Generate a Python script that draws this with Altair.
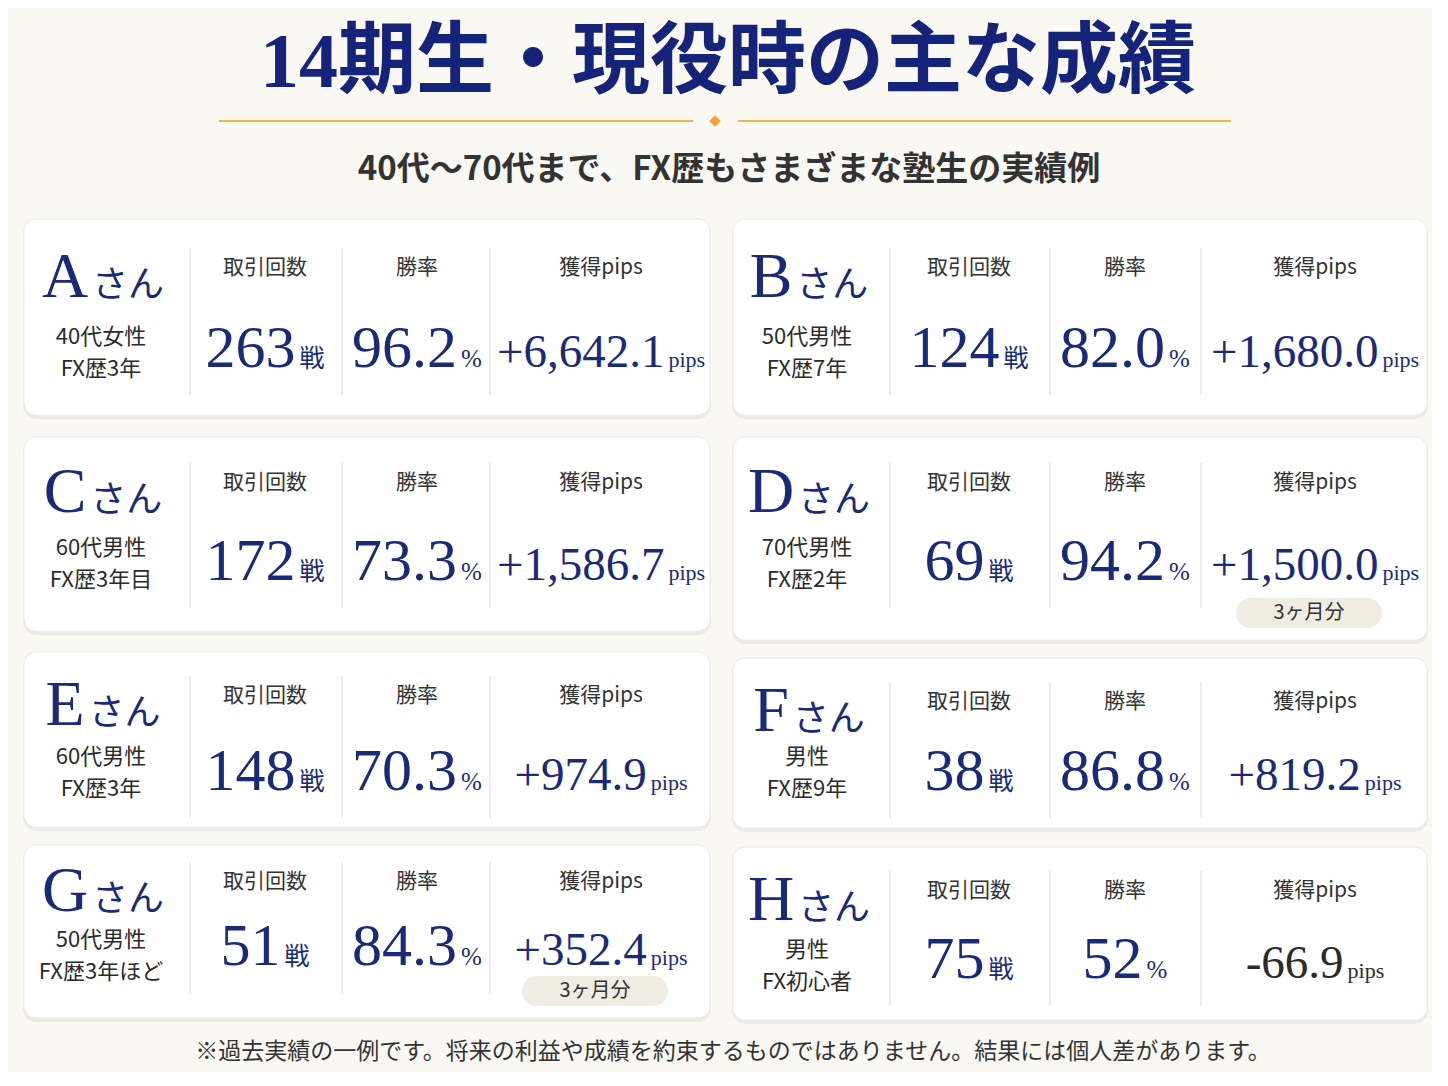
import altair as alt
import pandas as pd

# ---- data -----------------------------------------------------------------
names = ["A", "B", "C", "D", "E", "F", "G", "H"]
ages = ["40代女性", "50代男性", "60代男性", "70代男性", "60代男性", "男性", "50代男性", "男性"]
experience = ["FX歴3年", "FX歴7年", "FX歴3年目", "FX歴2年", "FX歴3年", "FX歴9年", "FX歴3年ほど", "FX初心者"]
trades = ["263", "124", "172", "69", "148", "38", "51", "75"]
win_rates = ["96.2", "82.0", "73.3", "94.2", "70.3", "86.8", "84.3", "52"]
pips = ["+6,642.1", "+1,680.0", "+1,586.7", "+1,500.0", "+974.9", "+819.2", "+352.4", "-66.9"]
notes = ["", "", "", "3ヶ月分", "", "", "3ヶ月分", ""]
headers = ["取引回数", "勝率", "獲得pips"]
units = ["戦", "%", "pips"]

title = "14期生・現役時の主な成績"
subtitle = "40代～70代まで、FX歴もさまざまな塾生の実績例"
footnote = "※過去実績の一例です。将来の利益や成績を約束するものではありません。結果には個人差があります。"

# ---- layout (page pixels) -------------------------------------------------
card_col = [0, 1, 0, 1, 0, 1, 0, 1]
card_top = [219, 219, 437, 437, 652, 658, 845, 847]
card_bottom = [415, 415, 631, 640, 827, 828, 1018, 1020]
header_y = [268, 268, 483, 483, 696, 702, 882, 891]
info_y = [337, 337, 548, 548, 757, 757, 940, 950]
number_y = [367, 367, 580, 580, 790, 790, 965, 978]
col_left = [24, 733]
col_right = [710, 1427]
name_x = [103, 809]
value_x = [[265, 417, 601], [969, 1125, 1315]]
divider_x = [[190, 342, 490], [890, 1050, 1201]]

NAVY = "#1b2a78"
DARK = "#2b2b2b"
SERIF = "Liberation Serif, Noto Sans CJK JP"
SANS = "Noto Sans CJK JP"

# rough Times-like advance widths (em) to centre number + unit pairs
GLYPH_W = {"+": .564, "-": .333, ",": .25, ".": .25, "%": .833,
           "p": .5, "i": .278, "s": .389,
           "A": .722, "B": .667, "C": .667, "D": .722, "E": .611,
           "F": .556, "G": .722, "H": .722}


def text_width(s, size):
    w = 0.0
    for ch in s:
        if ch in GLYPH_W:
            w += GLYPH_W[ch]
        elif ord(ch) > 0x2E80:
            w += 1.0
        else:
            w += 0.5
    return w * size


W, H = 1424, 1064
xs = alt.Scale(domain=[8, 8 + W], nice=False, zero=False)
ys = alt.Scale(domain=[8, 8 + H], nice=False, zero=False, reverse=True)


def X(f):
    return alt.X(f, type="quantitative", scale=xs, axis=None)


def Y(f):
    return alt.Y(f, type="quantitative", scale=ys, axis=None)


def text_layer(rows, font, weight="normal", align="center", baseline="middle"):
    return alt.Chart(pd.DataFrame(rows)).mark_text(
        font=font, fontWeight=weight, align=align, baseline=baseline
    ).encode(
        x=X("x"), y=Y("y"), text="text:N",
        size=alt.Size("size:Q", scale=None),
        color=alt.Color("color:N", scale=None),
    )


# ---- cards ----------------------------------------------------------------
cards, shadows, dividers, badges = [], [], [], []
name_rows, kana_rows, info_rows, head_rows = [], [], [], []
num_rows, unit_rows, badge_text = [], [], []

for i, nm in enumerate(names):
    c = card_col[i]
    x0, x1 = col_left[c], col_right[c]
    cards.append({"x": x0, "x2": x1, "y": card_top[i], "y2": card_bottom[i], "color": "#ffffff"})
    shadows.append({"x": x0 - 1, "x2": x1 + 1, "y": card_top[i] + 2, "y2": card_bottom[i] + 4, "color": "#e8e4dc"})

    for dx in divider_x[c]:
        dividers.append({"x": dx, "y": header_y[i] - 20, "y2": number_y[i] + 28})

    # name block
    lw = text_width(nm, 64)
    start = name_x[c] - (lw + 4 + 72) / 2
    name_rows.append({"x": start, "y": header_y[i] + 29, "text": nm, "size": 64, "color": NAVY})
    kana_rows.append({"x": start + lw + 4, "y": header_y[i] + 29, "text": "さん", "size": 36, "color": NAVY})
    info_rows.append({"x": name_x[c] - 2, "y": info_y[i], "text": ages[i], "size": 22, "color": DARK})
    info_rows.append({"x": name_x[c] - 2, "y": info_y[i] + 32, "text": experience[i], "size": 22, "color": DARK})

    values = [trades[i], win_rates[i], pips[i]]
    for j in range(3):
        cx = value_x[c][j]
        head_rows.append({"x": cx, "y": header_y[i], "text": headers[j], "size": 21, "color": "#333333"})
        nsize = 60 if j < 2 else 47
        usize = [25, 25, 22][j]
        nw = text_width(values[j], nsize)
        uw = text_width(units[j], usize)
        gap = 4
        left = cx - (nw + gap + uw) / 2
        col = DARK if values[j].startswith("-") else NAVY
        num_rows.append({"x": left, "y": number_y[i], "text": values[j], "size": nsize, "color": col})
        unit_rows.append({"x": left + nw + gap, "y": number_y[i], "text": units[j], "size": usize, "color": col})

    if notes[i]:
        bx = value_x[c][2] - 6
        by = card_bottom[i] - 27
        badges.append({"x": bx - 73, "x2": bx + 73, "y": by - 15, "y2": by + 15})
        badge_text.append({"x": bx, "y": by, "text": notes[i], "size": 20, "color": "#333333"})

shadow_layer = alt.Chart(pd.DataFrame(shadows)).mark_rect(cornerRadius=13, opacity=0.7).encode(
    x=X("x"), x2="x2", y=Y("y"), y2="y2", color=alt.Color("color:N", scale=None))
card_layer = alt.Chart(pd.DataFrame(cards)).mark_rect(
    cornerRadius=12, stroke="#ecebe6", strokeWidth=1
).encode(x=X("x"), x2="x2", y=Y("y"), y2="y2", color=alt.Color("color:N", scale=None))
divider_layer = alt.Chart(pd.DataFrame(dividers)).mark_rule(color="#dedbd5", strokeWidth=1).encode(
    x=X("x"), y=Y("y"), y2="y2")
badge_layer = alt.Chart(pd.DataFrame(badges)).mark_rect(cornerRadius=15, color="#f1ece2").encode(
    x=X("x"), x2="x2", y=Y("y"), y2="y2")

# ---- header ornament ------------------------------------------------------
gold_lines = pd.DataFrame({"x": [219, 738], "x2": [693, 1231], "y": [121, 121]})
gold_layer = alt.Chart(gold_lines).mark_rule(color="#f0b54c", strokeWidth=2).encode(
    x=X("x"), x2="x2", y=Y("y"))
diamond_layer = alt.Chart(pd.DataFrame({"x": [715], "y": [121]})).mark_point(
    shape="diamond", filled=True, color="#f0a531", size=130, opacity=1
).encode(x=X("x"), y=Y("y"))

title_layer = text_layer([{"x": 728, "y": 64, "text": title, "size": 78, "color": "#15237a"}], SERIF, "bold")
subtitle_layer = text_layer([{"x": 729, "y": 170, "text": subtitle, "size": 33, "color": "#333333"}], SANS, "bold")
foot_layer = text_layer([{"x": 733, "y": 1052, "text": footnote, "size": 23, "color": "#333333"}], SANS)

chart = alt.layer(
    shadow_layer, card_layer, divider_layer, badge_layer,
    gold_layer, diamond_layer, title_layer, subtitle_layer,
    text_layer(name_rows, "Liberation Serif", align="left", baseline="alphabetic"),
    text_layer(kana_rows, SANS, align="left", baseline="alphabetic"),
    text_layer(info_rows, SANS),
    text_layer(head_rows, SANS),
    text_layer(num_rows, "Liberation Serif", align="left", baseline="alphabetic"),
    text_layer(unit_rows, SERIF, align="left", baseline="alphabetic"),
    text_layer(badge_text, SANS),
    foot_layer,
).properties(
    width=W, height=H, padding=0,
    autosize=alt.AutoSizeParams(type="none"),
    background="#faf8f3",
).configure_view(stroke=None)

chart.save("out.html", embed_options={"renderer": "svg", "actions": False})
